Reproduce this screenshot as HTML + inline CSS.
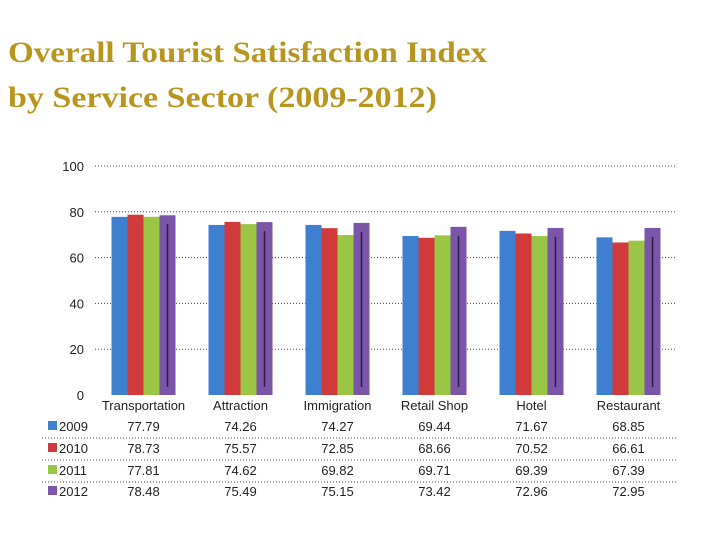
<!DOCTYPE html>
<html><head><meta charset="utf-8"><style>
html,body{margin:0;padding:0;background:#fff;width:720px;height:540px;overflow:hidden}
</style></head><body>
<svg id="chart" width="720" height="540" xmlns="http://www.w3.org/2000/svg">
<text x="8" y="62" font-family="Liberation Serif, serif" font-weight="bold" font-size="30" fill="#B8961E" textLength="479" lengthAdjust="spacingAndGlyphs">Overall Tourist Satisfaction Index</text>
<text x="8" y="107" font-family="Liberation Serif, serif" font-weight="bold" font-size="30" fill="#B8961E" textLength="429" lengthAdjust="spacingAndGlyphs">by Service Sector (2009-2012)</text>
<g id="plot"></g>
</svg>
<script>
const categories = ["Transportation","Attraction","Immigration","Retail Shop","Hotel","Restaurant"];
const seriesNames = ["2009","2010","2011","2012"];
const s2009 = [77.79,74.26,74.27,69.44,71.67,68.85];
const s2010 = [78.73,75.57,72.85,68.66,70.52,66.61];
const s2011 = [77.81,74.62,69.82,69.71,69.39,67.39];
const s2012 = [78.48,75.49,75.15,73.42,72.96,72.95];
const yTicks = [0,20,40,60,80,100];

const series = [s2009,s2010,s2011,s2012];
const colors = ["#3F7FD0","#D03A3A","#9AC545","#7B55A8"];
const NS = "http://www.w3.org/2000/svg";
const g = document.getElementById('plot');
const x0 = 95, x1 = 677, yTop = 166, yBot = 395;
const gw = (x1 - x0) / categories.length;
const bw = 16;
function yS(v){ return yBot - (v/100)*(yBot-yTop); }
function mk(tag, attrs){ const e = document.createElementNS(NS, tag); for (const k in attrs) e.setAttribute(k, attrs[k]); g.appendChild(e); return e; }

yTicks.forEach(t => {
  const y = yS(t);
  if (t > 0) {
    const l = mk('line', {x1:x0, x2:x1, y1:y, y2:y, stroke:'#444', 'stroke-width':1, 'stroke-dasharray':'1,2'});
    
    
  }
  const tx = mk('text', {x:84, y:y+5, 'text-anchor':'end', 'font-family':'Liberation Sans, sans-serif', 'font-size':13, fill:'#222'});
  tx.textContent = t;
  
  
});

categories.forEach((c, i) => {
  const cx = x0 + gw*(i+0.5);
  series.forEach((s, j) => {
    const bx = cx - 2*bw + j*bw;
    const y = yS(s[i]);
    const r = mk('rect', {x:bx, y:y, width:bw, height:yBot-y, fill:colors[j]});
    
    
    if (j === 3) {
      const ln = mk('line', {x1:bx+bw/2, x2:bx+bw/2, y1:y+9, y2:yBot-8, stroke:'#2a1a45', 'stroke-width':1.5});
      
      
    }
  });
  const lb = mk('text', {x:cx, y:410, 'text-anchor':'middle', 'font-family':'Liberation Sans, sans-serif', 'font-size':13, fill:'#222'});
  lb.textContent = c;
  
  
});

const rowY = [431, 453, 475, 496];
series.forEach((s, j) => {
  const y = rowY[j];
  const sw = mk('rect', {x:48, y:y-10, width:9, height:9, fill:colors[j]});
  
  
  const nm = mk('text', {x:59, y:y, 'font-family':'Liberation Sans, sans-serif', 'font-size':13, fill:'#222'});
  nm.textContent = seriesNames[j];
  
  
  s.forEach((v, i) => {
    const t = mk('text', {x:x0 + gw*(i+0.5), y:y, 'text-anchor':'middle', 'font-family':'Liberation Sans, sans-serif', 'font-size':13, fill:'#222'});
    t.textContent = v.toFixed(2);
    
    
  });
  if (j < 3) {
    const sep = mk('line', {x1:42, x2:677, y1:y+7, y2:y+7, stroke:'#444', 'stroke-width':1, 'stroke-dasharray':'1,2'});
    
    
  }
});
</script>
</body></html>
